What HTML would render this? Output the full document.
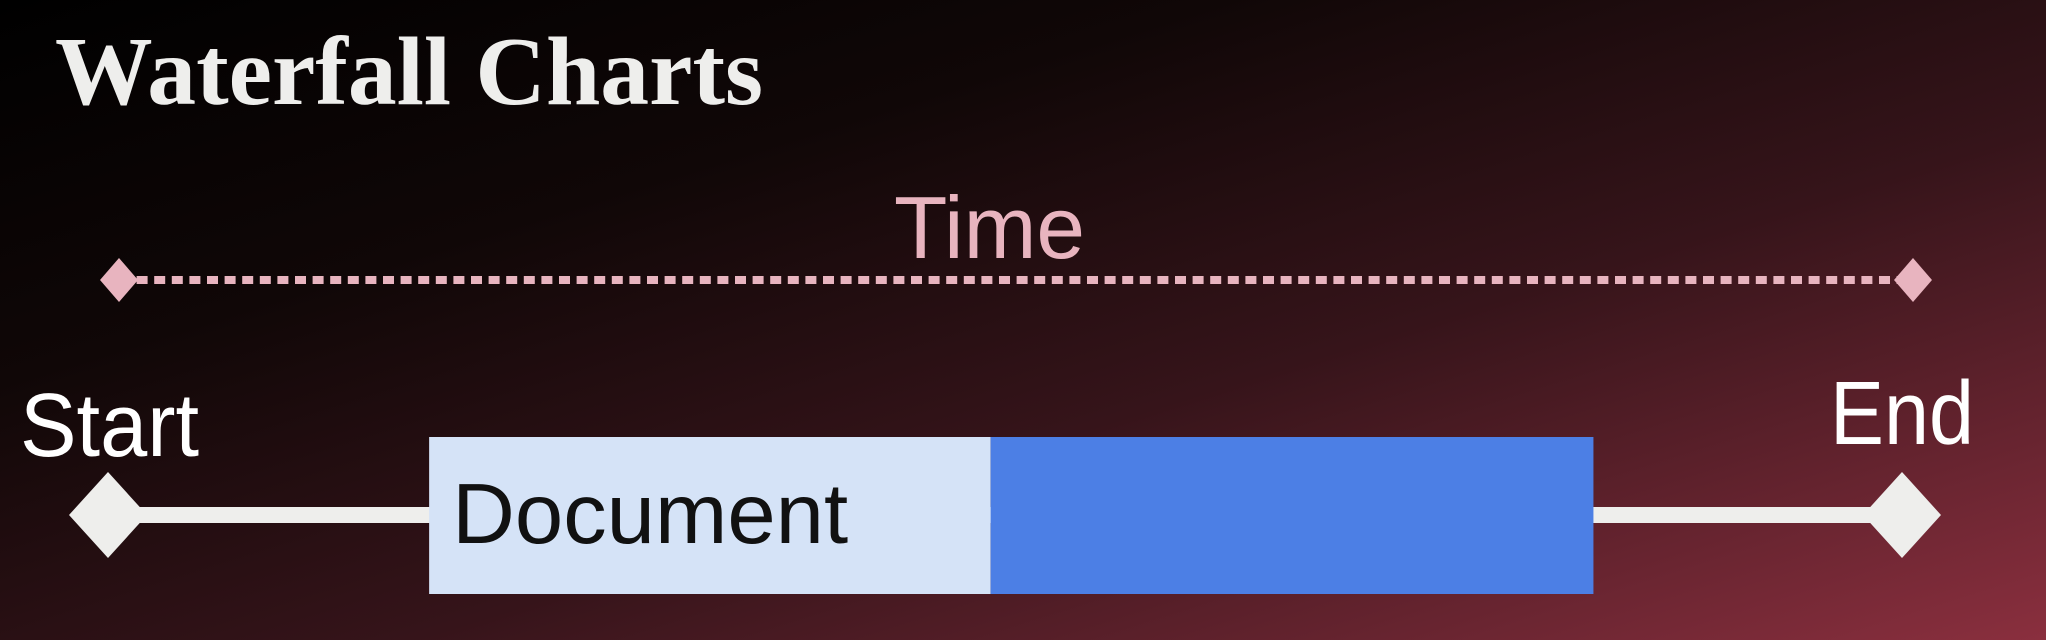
<!DOCTYPE html>
<html><head><meta charset="utf-8"><style>
html,body{margin:0;padding:0;width:2046px;height:640px;overflow:hidden}
body{background:linear-gradient(to bottom right,#000 0%,#100707 30%,#36141a 60%,#6a2531 85%,#8a2f3e 100%)}
svg{position:absolute;left:0;top:0}
</style></head><body>
<svg id="c" width="2046" height="640">
<text x="55" y="104" font-family="'Liberation Serif',serif" font-weight="bold" font-size="98" fill="#eeeeec" textLength="708" lengthAdjust="spacingAndGlyphs">Waterfall Charts</text>
<text x="894" y="258" font-family="'Liberation Sans',sans-serif" font-size="88" fill="#e8b4bf" textLength="191" lengthAdjust="spacingAndGlyphs">Time</text>
<text x="20" y="456" font-family="'Liberation Sans',sans-serif" font-size="90" fill="#fff" textLength="179" lengthAdjust="spacingAndGlyphs">Start</text>
<text x="1830" y="444" font-family="'Liberation Sans',sans-serif" font-size="90" fill="#fff" textLength="144" lengthAdjust="spacingAndGlyphs">End</text>
</svg>
<script>
const timeDomain = [0, 100];
const segmentNames = ['document-waiting', 'document-download'];
const segmentStarts = [17.9, 49.2];
const segmentEnds = [49.2, 82.8];
const segmentColors = ['#d5e3f7', '#4c7fe5'];
const NS = 'http://www.w3.org/2000/svg';
const svg = document.getElementById('c');
const x0 = 108, x1 = 1902;
function xs(v){ return x0 + (v - timeDomain[0]) / (timeDomain[1] - timeDomain[0]) * (x1 - x0); }
function mk(tag, attrs){ const e = document.createElementNS(NS, tag); for (const k in attrs) e.setAttribute(k, attrs[k]); return e; }
const tx0 = 119, tx1 = 1913;
let dl = mk('line', {x1: tx0, y1: 280, x2: tx1, y2: 280, stroke: '#e8b4bf', 'stroke-width': 8, 'stroke-dasharray': '11 6.6'});


svg.insertBefore(dl, svg.firstChild);
[tx0, tx1].forEach(function(cx, i){
  const d = mk('polygon', {points: (cx-19)+',280 '+cx+',258 '+(cx+19)+',280 '+cx+',302', fill: '#e8b4bf'});
  
  
  svg.appendChild(d);
});
const bl = mk('rect', {x: xs(timeDomain[0]), y: 507, width: xs(timeDomain[1]) - xs(timeDomain[0]), height: 16, fill: '#eeeeec'});


svg.appendChild(bl);
timeDomain.forEach(function(v, i){
  const cx = xs(v);
  const d = mk('polygon', {points: (cx-39)+',515 '+cx+',472 '+(cx+39)+',515 '+cx+',558', fill: '#eeeeec'});
  
  
  svg.appendChild(d);
});
segmentNames.forEach(function(n, i){
  const r = mk('rect', {x: xs(segmentStarts[i]), y: 437, width: xs(segmentEnds[i]) - xs(segmentStarts[i]), height: 157, fill: segmentColors[i]});
  
  
  svg.appendChild(r);
});
const t = mk('text', {x: xs(segmentStarts[0]) + 23, y: 543, 'font-family': "'Liberation Sans',sans-serif", 'font-size': 85, fill: '#111', textLength: 396, lengthAdjust: 'spacingAndGlyphs'});
t.textContent = 'Document';


svg.appendChild(t);
</script>
</body></html>
